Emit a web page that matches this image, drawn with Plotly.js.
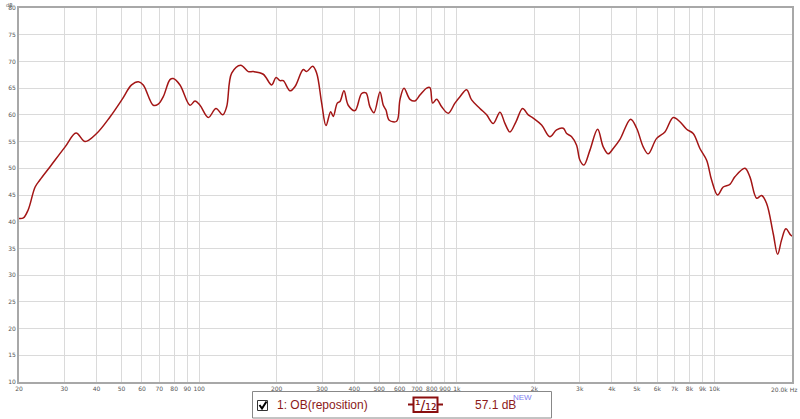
<!DOCTYPE html>
<html><head><meta charset="utf-8">
<script src="https://cdn.plot.ly/plotly-3.0.1.min.js"></script>
<style>html,body{margin:0;padding:0;background:#fff}#chart{width:800px;height:419px}</style>
</head><body><div id="chart"></div>
<script>
const freqHz = [20,20.8,21.7,23.1,24.1,26.4,30.2,33.3,36.1,40.0,45.1,50.1,54.7,58.1,60.7,66.4,69.4,72.6,77.1,79.4,84.3,92.2,96.4,100.8,108.6,116.3,123.5,127.9,133.8,145,155.2,162.3,177.4,191.3,198.8,206,212.2,225.3,235.6,253.6,261.4,276,286,299,310.8,324,331.6,343.8,352.2,365,379,402.6,427.4,444.2,460.3,477.2,503.4,518.6,531.2,547,584.4,601.8,623.8,658.2,688.2,719.6,764,787,806,835.6,873.8,926.8,983.8,1029,1092,1142,1230,1306,1385,1471,1538,1608,1697,1801,1894,1980,2134,2298,2440,2590,2670,2791,2918,3006,3116,3288,3521,3702,3871,4048,4299,4729,4990,5293,5534,5966,6424,6918,7345,7800,8271,8782,9326,9750,10286,10816,11482,12006,13130,13730,14580,15242,15940,16906,17586,18224,18938,19752,20000];
const splDb = [40.6,40.7,42.2,46.5,47.8,50.3,54.0,56.6,55.0,56.5,59.6,62.8,65.6,66.2,65.6,61.8,62.0,63.4,66.6,66.8,65.6,61.8,62.6,61.8,59.5,61.2,60.0,61.5,67.8,69.3,68.1,68.1,67.6,65.6,67.0,66.4,66.4,64.5,65.3,68.5,68.1,69.1,67.8,62.2,58.0,60.6,59.7,62.2,62.5,64.5,61.8,60.8,64.0,64.1,61.5,60.4,64.3,61.8,60.9,59.0,58.8,62.8,65.0,62.9,62.6,63.7,65.0,65.1,62.2,62.9,61.5,60.3,62.2,63.4,64.7,62.8,61.2,60.0,58.4,60.5,58.4,56.8,58.7,61.2,60.0,59.4,58.1,55.9,57.2,57.5,56.5,55.9,54.3,51.5,50.6,53.4,57.3,54.0,52.7,53.7,55.4,59.2,57.5,54.0,52.7,55.6,56.8,59.5,58.7,57.3,56.5,53.7,51.5,47.8,45.0,46.5,47.0,48.4,50.0,48.4,44.4,44.9,43.4,37.8,33.9,36.6,38.7,37.5,37.3];
const xTickVals = [20,30,40,50,60,70,80,90,100,200,300,400,500,600,700,800,900,1000,2000,3000,4000,5000,6000,7000,8000,9000,10000];
const xTickText = ['20','30','40','50','60','70','80','90','100','200','300','400','500','600','700','800','900','1k','2k','3k','4k','5k','6k','7k','8k','9k','10k'];
const xEndLabel = '20.0k Hz';
const yTickVals = [10,15,20,25,30,35,40,45,50,55,60,65,70,75,80];
const legendName = '1: OB(reposition)';
const legendValue = '57.1 dB';
const smoothingLabel = '¹/₁₂';

const L=19,R=792,T=8,B=382,W=800,H=419;
const px = x => (x-L)/(R-L);
const py = y => (B-y)/(B-T);
const red = '#a31515';

const trace = {x:freqHz, y:splDb, type:'scatter', mode:'lines',
  line:{color:red, width:1.5, shape:'spline', smoothing:1}, hoverinfo:'skip'};

const tickFont = {family:'DejaVu Sans, Verdana, sans-serif', size:6, color:'#555'};
const legFont = {family:'Liberation Sans, Arial, sans-serif', size:12, color:'#8b1a1a'};
const layout = {
  width:W, height:H, margin:{l:L, r:W-R, t:T, b:H-B},
  paper_bgcolor:'#fff', plot_bgcolor:'#fff', showlegend:false,
  xaxis:{type:'log', range:[Math.log10(20),Math.log10(20000)], tickvals:xTickVals, ticktext:xTickText, tickangle:0,
    showgrid:true, gridcolor:'#dadada', gridwidth:1, showline:true, linecolor:'#a8a8a8', linewidth:2, mirror:true,
    ticks:'', tickfont:tickFont, zeroline:false, fixedrange:true},
  yaxis:{range:[10,80], tickvals:yTickVals, showgrid:true, gridcolor:'#dadada', gridwidth:1,
    showline:true, linecolor:'#a8a8a8', linewidth:2, mirror:true, ticks:'', tickfont:tickFont, zeroline:false, fixedrange:true},
  shapes:[
    {type:'rect', xref:'paper', yref:'paper', x0:px(252.5), x1:px(551.5), y0:py(391.5), y1:py(418), line:{color:'#888', width:1}, fillcolor:'rgba(0,0,0,0)'},
    {type:'rect', xref:'paper', yref:'paper', x0:px(257.5), x1:px(267.5), y0:py(400.5), y1:py(410.5), line:{color:'#333', width:1}, fillcolor:'#fff'},
    {type:'path', xref:'paper', yref:'paper', path:`M ${px(259.5)},${py(405)} L ${px(262)},${py(408.5)} L ${px(266.5)},${py(401.5)}`, line:{color:'#000', width:2}},
    {type:'line', xref:'paper', yref:'paper', x0:px(408), x1:px(443), y0:py(404.5), y1:py(404.5), line:{color:'#8b0f0f', width:2}},
    {type:'rect', xref:'paper', yref:'paper', x0:px(413.5), x1:px(437.5), y0:py(397.5), y1:py(412), line:{color:'#8b0f0f', width:2}, fillcolor:'#fff'}
  ],
  annotations:[
    {text:'dB', xref:'paper', yref:'paper', x:px(15), y:py(0), xanchor:'right', yanchor:'top', showarrow:false, font:{family:'DejaVu Sans, sans-serif', size:5, color:'#555'}},
    {text:xEndLabel, xref:'paper', yref:'paper', x:px(799), y:py(384), xanchor:'right', yanchor:'top', showarrow:false, font:tickFont},
    {text:legendName, xref:'paper', yref:'paper', x:px(275), y:py(405), xanchor:'left', yanchor:'middle', showarrow:false, font:legFont},
    {text:smoothingLabel, xref:'paper', yref:'paper', x:px(425.5), y:py(405), xanchor:'center', yanchor:'middle', showarrow:false, font:{family:'DejaVu Sans, sans-serif', size:14, color:'#7a0a0a'}},
    {text:legendValue, xref:'paper', yref:'paper', x:px(473), y:py(405), xanchor:'left', yanchor:'middle', showarrow:false, font:legFont},
    {text:'NEW', xref:'paper', yref:'paper', x:px(511), y:py(397), xanchor:'left', yanchor:'middle', showarrow:false, font:{family:'Liberation Sans, Arial, sans-serif', size:8, color:'#8080f0'}}
  ]
};
Plotly.newPlot('chart',[trace],layout,{displayModeBar:false, staticPlot:true});
</script></body></html>
